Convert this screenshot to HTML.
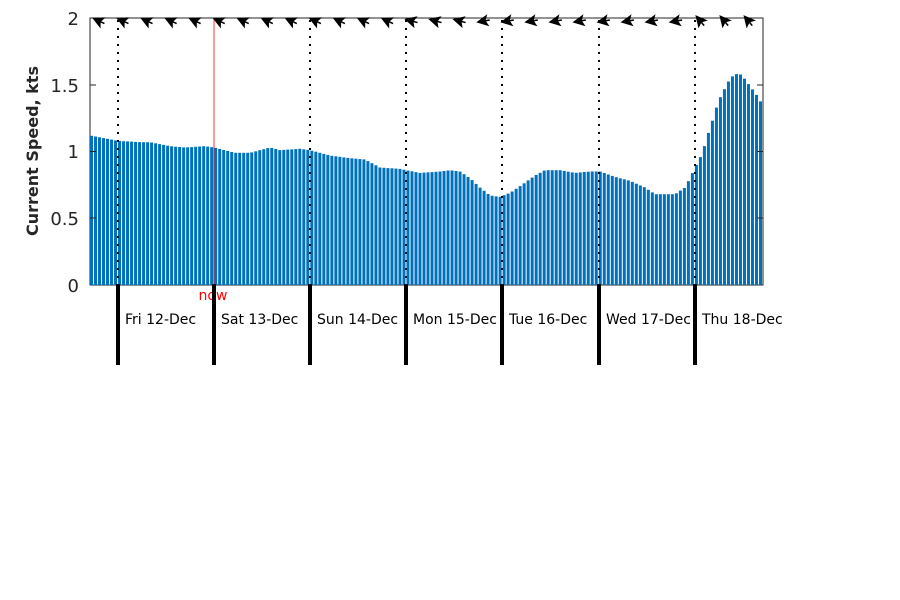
<!DOCTYPE html>
<html><head><meta charset="utf-8"><style>
body{margin:0;background:#fff;width:900px;height:600px;overflow:hidden}
svg{display:block}
text{font-family:"DejaVu Sans","Liberation Sans",sans-serif}
</style></head><body>
<svg id="s" width="900" height="600" xmlns="http://www.w3.org/2000/svg">
<rect x="90" y="18" width="673" height="267" fill="#fff" stroke="#262626" stroke-width="1"/>
<g id="bars" fill="#0072bd"></g>
<g id="dots"></g>
<line x1="214" y1="18" x2="214" y2="285" stroke="#ff0000" stroke-width="1" opacity="0.8"/>
<g stroke="#262626" stroke-width="1">
<line x1="90" y1="18" x2="96" y2="18"/><line x1="90" y1="85" x2="96" y2="85"/><line x1="90" y1="151.5" x2="96" y2="151.5"/><line x1="90" y1="218" x2="96" y2="218"/>
<line x1="763" y1="85" x2="757" y2="85"/><line x1="763" y1="151.5" x2="757" y2="151.5"/><line x1="763" y1="218" x2="757" y2="218"/>
</g>
<g font-size="18" fill="#262626" text-anchor="end">
<text x="79" y="25">2</text><text x="79" y="92">1.5</text><text x="79" y="158">1</text><text x="79" y="225">0.5</text><text x="79" y="292">0</text>
</g>
<text transform="translate(38,151) rotate(-90)" font-size="16" font-weight="bold" fill="#262626" text-anchor="middle">Current Speed, kts</text>
<text x="213" y="300" font-size="14" fill="#ff0000" text-anchor="middle">now</text>
<g id="ticks"></g>
<g id="arrows" fill="#000"></g>
</svg>
<script>
var pts=[[90,1.12],[118,1.08],[140,1.07],[150,1.07],[170,1.04],[185,1.03],[205,1.04],[214,1.03],[235,0.99],[250,0.99],[270,1.03],[280,1.01],[300,1.02],[310,1.01],[330,0.97],[350,0.95],[365,0.94],[380,0.88],[400,0.87],[406,0.86],[420,0.84],[440,0.85],[450,0.86],[460,0.85],[470,0.80],[480,0.73],[490,0.67],[500,0.66],[510,0.69],[520,0.74],[535,0.82],[545,0.86],[560,0.86],[575,0.84],[590,0.85],[600,0.85],[615,0.81],[630,0.78],[645,0.73],[655,0.68],[675,0.68],[685,0.73],[690,0.80],[695,0.88],[700,0.95],[704,1.03],[708,1.13],[712,1.22],[716,1.32],[720,1.40],[724,1.46],[728,1.52],[732,1.56],[736,1.58],[740,1.58],[744,1.55],[748,1.51],[752,1.47],[756,1.43],[760,1.38],[764,1.34]];
function f(x){for(var i=1;i<pts.length;i++){if(x<=pts[i][0]){var a=pts[i-1],b=pts[i];return a[1]+(b[1]-a[1])*(x-a[0])/(b[0]-a[0]);}}return 1.34;}
var h="";
for(var i=0;i<168;i++){var cx=91.5+i*4.006;var v=f(cx);var y=285-v*133.5;var w=Math.min(3,763-(cx-1.5));h+='<rect x="'+(cx-1.5).toFixed(2)+'" y="'+y.toFixed(1)+'" width="'+w.toFixed(2)+'" height="'+(285-y).toFixed(1)+'"/>';}
document.getElementById('bars').innerHTML=h;
var days=[118,214,310,406,502,599,695],labs=["Fri 12-Dec","Sat 13-Dec","Sun 14-Dec","Mon 15-Dec","Tue 16-Dec","Wed 17-Dec","Thu 18-Dec"];
var d="",t="";
days.forEach(function(x,k){if(k!=1)d+='<line x1="'+x+'" y1="20" x2="'+x+'" y2="285" stroke="#000" stroke-width="2" stroke-dasharray="2,6"/>';
t+='<rect x="'+(x-2)+'" y="284" width="4" height="81" fill="#000"/><text x="'+(x+7)+'" y="324" font-size="14" fill="#000">'+labs[k]+'</text>';});
document.getElementById('dots').innerHTML=d;document.getElementById('ticks').innerHTML=t;
var a="";
for(var j=0;j<28;j++){var x=99+j*24.05;var ang;
if(x<400)ang=-155;else if(x<480)ang=-165;else if(x<690)ang=170;else ang=-130;
a+='<path transform="translate('+x.toFixed(1)+',21) rotate('+ang+')" d="M6,0 L-3,-4.5 L-1,0 L-3,4.5 Z M-1,0 L-6,0" stroke="#000" stroke-width="1.5"/>';}
document.getElementById('arrows').innerHTML=a;
</script>
</body></html>
